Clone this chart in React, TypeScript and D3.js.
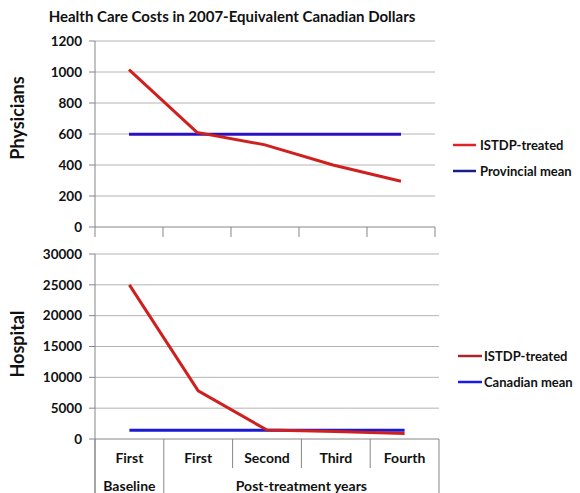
import React from "react";
import * as d3 from "d3";

const categories = ["First", "First", "Second", "Third", "Fourth"];
const groups = [
  { label: "Baseline", span: 1 },
  { label: "Post-treatment years", span: 4 },
];
const physiciansIstdp = [1015, 610, 530, 400, 295];
const physiciansMean = [598, 598, 598, 598, 598];
const physTicks = [0, 200, 400, 600, 800, 1000, 1200];
const hospitalIstdp = [25000, 7800, 1450, 1200, 900];
const hospitalMean = [1400, 1400, 1400, 1400, 1400];
const hospTicks = [0, 5000, 10000, 15000, 20000, 25000, 30000];

const FONT = "Lato, 'Open Sans', sans-serif";
const GRID = "#b4b4b4";
const AXIS = "#868686";

export default function App() {
  const idx = categories.map((_, i) => i);

  const xTop = d3.scaleBand<number>().domain(idx).range([95, 435]);
  const yTop = d3.scaleLinear().domain([0, 1200]).range([227, 41]);
  const xBot = d3.scaleBand<number>().domain(idx).range([95, 439]);
  const yBot = d3.scaleLinear().domain([0, 30000]).range([439, 254]);

  const lineTop = d3
    .line<number>()
    .x((_, i) => (xTop(i) as number) + xTop.bandwidth() / 2)
    .y((d) => yTop(d));
  const lineBot = d3
    .line<number>()
    .x((_, i) => (xBot(i) as number) + xBot.bandwidth() / 2)
    .y((d) => yBot(d));

  const topBounds = d3.range(categories.length + 1).map((i) =>
    i < categories.length ? (xTop(i) as number) : 435
  );
  const botBounds = d3.range(categories.length + 1).map((i) =>
    i < categories.length ? (xBot(i) as number) : 439
  );

  const groupEdges: number[] = [0];
  groups.forEach((g) => groupEdges.push(groupEdges[groupEdges.length - 1] + g.span));

  return (
    <svg
      width={580}
      height={493}
      style={{ position: "absolute", left: 0, top: 0, background: "#fff" }}
      fontFamily={FONT}
    >
      <rect x={0} y={0} width={580} height={493} fill="#fff" />
      <text x={232} y={22} textAnchor="middle" fontSize={15} fontWeight={700} fill="#111">
        Health Care Costs in 2007-Equivalent Canadian Dollars
      </text>

      {/* ---------- TOP PANEL ---------- */}
      {physTicks.map((t) => (
        <g key={"pt" + t}>
          {t > 0 && (
            <line x1={95} x2={435} y1={yTop(t)} y2={yTop(t)} stroke={GRID} strokeWidth={1} />
          )}
          <line x1={89} x2={95} y1={yTop(t)} y2={yTop(t)} stroke={AXIS} strokeWidth={1} />
          <text
            x={82}
            y={yTop(t)}
            dy="0.35em"
            textAnchor="end"
            fontSize={13.5}
            fontWeight={700}
            fill="#111"
          >
            {t}
          </text>
        </g>
      ))}
      <line x1={95} x2={95} y1={41} y2={227} stroke={AXIS} strokeWidth={1} />
      <line x1={95} x2={435} y1={227} y2={227} stroke={AXIS} strokeWidth={1} />
      {topBounds.map((x, i) => (
        <line key={"tb" + i} x1={x} x2={x} y1={227} y2={237} stroke={AXIS} strokeWidth={1} />
      ))}
      <path d={lineTop(physiciansMean) || ""} fill="none" stroke="#2a12c4" strokeWidth={3} />
      <path d={lineTop(physiciansIstdp) || ""} fill="none" stroke="#d01f1f" strokeWidth={3} />
      <text
        transform="translate(24,118) rotate(-90)"
        textAnchor="middle"
        fontSize={18}
        fontWeight={700}
        fill="#111"
      >
        Physicians
      </text>
      <line x1={453} x2={476} y1={145} y2={145} stroke="#e0202a" strokeWidth={2.5} />
      <text x={480} y={145} dy="0.35em" fontSize={13} fontWeight={700} fill="#111">
        ISTDP-treated
      </text>
      <line x1={453} x2={476} y1={171} y2={171} stroke="#1c1c8a" strokeWidth={2.5} />
      <text x={480} y={171} dy="0.35em" fontSize={13} fontWeight={700} fill="#111">
        Provincial mean
      </text>

      {/* ---------- BOTTOM PANEL ---------- */}
      {hospTicks.map((t) => (
        <g key={"ht" + t}>
          {t > 0 && (
            <line x1={95} x2={439} y1={yBot(t)} y2={yBot(t)} stroke={GRID} strokeWidth={1} />
          )}
          <line x1={89} x2={95} y1={yBot(t)} y2={yBot(t)} stroke={AXIS} strokeWidth={1} />
          <text
            x={82}
            y={yBot(t)}
            dy="0.35em"
            textAnchor="end"
            fontSize={13.5}
            fontWeight={700}
            fill="#111"
          >
            {t}
          </text>
        </g>
      ))}
      <line x1={95} x2={95} y1={254} y2={493} stroke={AXIS} strokeWidth={1} />
      <line x1={95} x2={439} y1={439} y2={439} stroke={AXIS} strokeWidth={1} />
      {botBounds.map((x, i) => {
        const isGroupEdge = groupEdges.includes(i);
        return (
          <line
            key={"bb" + i}
            x1={x}
            x2={x}
            y1={439}
            y2={isGroupEdge ? 493 : 468}
            stroke={AXIS}
            strokeWidth={1}
          />
        );
      })}
      {categories.map((c, i) => (
        <text
          key={"c" + i}
          x={(xBot(i) as number) + xBot.bandwidth() / 2}
          y={458}
          dy="0.35em"
          textAnchor="middle"
          fontSize={14}
          fontWeight={700}
          fill="#111"
        >
          {c}
        </text>
      ))}
      {groups.map((g, gi) => {
        const x0 = botBounds[groupEdges[gi]];
        const x1 = botBounds[groupEdges[gi + 1]];
        return (
          <text
            key={"g" + gi}
            x={(x0 + x1) / 2}
            y={486}
            dy="0.35em"
            textAnchor="middle"
            fontSize={14}
            fontWeight={700}
            fill="#111"
          >
            {g.label}
          </text>
        );
      })}
      <path d={lineBot(hospitalMean) || ""} fill="none" stroke="#1a1ad2" strokeWidth={3} />
      <path d={lineBot(hospitalIstdp) || ""} fill="none" stroke="#d01f1f" strokeWidth={3} />
      <text
        transform="translate(24,344) rotate(-90)"
        textAnchor="middle"
        fontSize={18}
        fontWeight={700}
        fill="#111"
      >
        Hospital
      </text>
      <line x1={458} x2={482} y1={356} y2={356} stroke="#a8262c" strokeWidth={2.5} />
      <text x={484} y={356} dy="0.35em" fontSize={13} fontWeight={700} fill="#111">
        ISTDP-treated
      </text>
      <line x1={458} x2={482} y1={382} y2={382} stroke="#1a1aee" strokeWidth={2.5} />
      <text x={484} y={382} dy="0.35em" fontSize={13} fontWeight={700} fill="#111">
        Canadian mean
      </text>
    </svg>
  );
}
